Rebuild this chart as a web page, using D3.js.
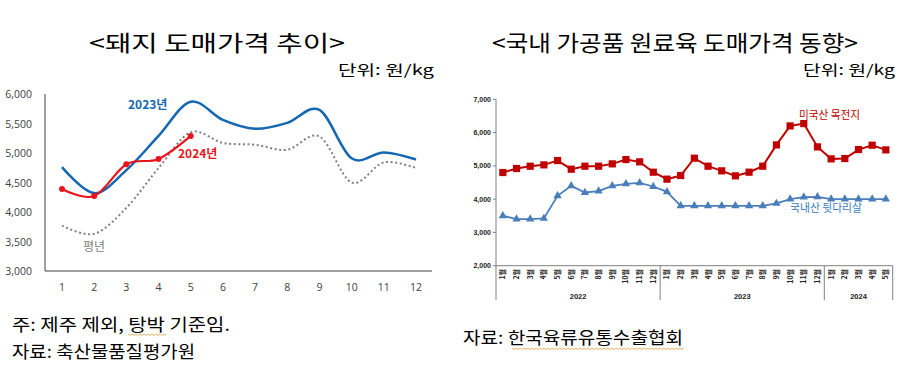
<!DOCTYPE html>
<html>
<head>
<meta charset="utf-8">
<script src="https://cdn.jsdelivr.net/npm/d3@7"></script>
<style>
  html, body { margin: 0; padding: 0; background: #fff; }
  svg { display: block; }
</style>
</head>
<body>
<svg id="chart" width="904" height="373"></svg>
<script>
// ---- left chart data (돼지 도매가격, 원/kg) ----
const months = [1, 2, 3, 4, 5, 6, 7, 8, 9, 10, 11, 12];
const price2023 = [4760, 4320, 4710, 5290, 5870, 5560, 5410, 5510, 5730, 4910, 5010, 4890];
const price2024 = [4390, 4270, 4810, 4900, 5290];
const priceNormal = [3770, 3630, 4070, 4745, 5350, 5170, 5140, 5055, 5280, 4500, 4840, 4745];
const leftTicks = [3000, 3500, 4000, 4500, 5000, 5500, 6000];

// ---- right chart data (국내 가공품 원료육, 원/kg) ----
const yearGroups = ["2022", "2023", "2024"];
const monthsPerYear = [12, 12, 5];
const monthLabels = [
  "1월", "2월", "3월", "4월", "5월", "6월", "7월", "8월", "9월", "10월", "11월", "12월",
  "1월", "2월", "3월", "4월", "5월", "6월", "7월", "8월", "9월", "10월", "11월", "12월",
  "1월", "2월", "3월", "4월", "5월"
];
const usShoulder = [4800, 4920, 4990, 5030, 5160, 4900, 4990, 4990, 5060, 5190, 5120, 4810,
  4600, 4710, 5230, 4990, 4850, 4700, 4810, 4990, 5630, 6200, 6270, 5570,
  5210, 5220, 5490, 5620, 5480];
const krHam = [3500, 3400, 3400, 3420, 4100, 4400, 4200, 4240, 4400, 4460, 4490, 4380,
  4220, 3800, 3800, 3800, 3800, 3800, 3800, 3800, 3870, 4000, 4060, 4070,
  4000, 4000, 4000, 4000, 4000];
const rightTicks = [2000, 3000, 4000, 5000, 6000, 7000];

const KR = "'Noto Sans CJK KR', 'Noto Sans', sans-serif";
const svg = d3.select("#chart");

// titles and units
function addText(x, y, txt, size, opts = {}) {
  const t = svg.append("text")
    .attr("x", x).attr("y", y)
    .attr("font-family", opts.family || KR)
    .attr("font-size", size)
    .attr("fill", opts.fill || "#000")
    .attr("font-weight", opts.weight || "normal")
    .attr("text-anchor", opts.anchor || "start")
    .text(txt);
  if (opts.len) t.attr("textLength", opts.len).attr("lengthAdjust", "spacingAndGlyphs");
  return t;
}

addText(89, 51, "<돼지  도매가격  추이>", 22, { len: 256 });
addText(492, 51, "<국내 가공품 원료육 도매가격 동향>", 22, { len: 366 });
addText(338, 75, "단위: 원/kg", 14, { len: 96 });
addText(803, 75, "단위: 원/kg", 14, { len: 92 });

addText(12, 331, "주: 제주 제외, 탕박 기준임.", 17, { len: 218 });
addText(12, 358, "자료: 축산물품질평가원", 17, { len: 183 });
addText(463, 344, "자료: 한국육류유통수출협회", 17, { len: 220 });

// spell-check style wavy underline
function wavy(x1, x2, y) {
  let d = `M${x1},${y}`;
  for (let x = x1, i = 0; x < x2; x += 2, i++) d += ` L${x + 2},${y + (i % 2 ? 0 : 1.5)}`;
  svg.append("path").attr("d", d).attr("fill", "none").attr("stroke", "#e0a040").attr("stroke-width", 0.8);
}
wavy(128, 166, 334);
wavy(512, 683, 348);

// ================= left chart =================
const xL = d3.scalePoint().domain(months).range([62, 416]);
const yL = d3.scaleLinear().domain([3000, 6000]).range([271, 94]);
const gL = svg.append("g");

gL.append("line").attr("x1", 45).attr("x2", 45).attr("y1", yL(6000)).attr("y2", yL(3000))
  .attr("stroke", "#404040").attr("stroke-width", 1);
gL.append("line").attr("x1", 45).attr("x2", 432).attr("y1", yL(3000)).attr("y2", yL(3000))
  .attr("stroke", "#404040").attr("stroke-width", 1);

gL.selectAll(".yl").data(leftTicks).join("text")
  .attr("x", 32).attr("y", d => yL(d) + 4)
  .attr("text-anchor", "end").attr("font-family", "'Open Sans', sans-serif")
  .attr("font-size", 10.5).attr("fill", "#404040")
  .text(d3.format(","));
gL.selectAll(".xl").data(months).join("text")
  .attr("x", d => xL(d)).attr("y", 291)
  .attr("text-anchor", "middle").attr("font-family", "'Open Sans', sans-serif")
  .attr("font-size", 10.5).attr("fill", "#404040")
  .text(d => d);

const smooth = d3.line().x((d, i) => xL(months[i])).y(d => yL(d)).curve(d3.curveCardinal.tension(0));

gL.append("path").attr("d", smooth(priceNormal)).attr("fill", "none")
  .attr("stroke", "#808080").attr("stroke-width", 2).attr("stroke-dasharray", "2,2.6");
gL.append("path").attr("d", smooth(price2023)).attr("fill", "none")
  .attr("stroke", "#1467b0").attr("stroke-width", 2.5);
gL.append("path").attr("d", smooth(price2024)).attr("fill", "none")
  .attr("stroke", "#e8141c").attr("stroke-width", 2.2);
gL.selectAll(".p24").data(price2024).join("circle")
  .attr("cx", (d, i) => xL(months[i])).attr("cy", d => yL(d)).attr("r", 3)
  .attr("fill", "#e8141c");

addText(128, 109, "2023년", 12, { fill: "#1467b0", weight: "bold" });
addText(178, 158, "2024년", 12, { fill: "#e8141c", weight: "bold" });
addText(83, 251, "평년", 12, { fill: "#7f7f7f" });

// ================= right chart =================
const idx = d3.range(monthLabels.length);
const xR = d3.scaleBand().domain(idx).range([496, 892.7]);
const yR = d3.scaleLinear().domain([2000, 7000]).range([265.7, 99.3]);
const gR = svg.append("g");

gR.append("line").attr("x1", 496).attr("x2", 496).attr("y1", yR(7000)).attr("y2", 300)
  .attr("stroke", "#808080");
gR.append("line").attr("x1", 496).attr("x2", 892.7).attr("y1", yR(2000)).attr("y2", yR(2000))
  .attr("stroke", "#808080");
gR.selectAll(".yt").data(rightTicks).join("line")
  .attr("x1", 493).attr("x2", 496).attr("y1", d => yR(d)).attr("y2", d => yR(d))
  .attr("stroke", "#808080");
gR.selectAll(".yl").data(rightTicks).join("text")
  .attr("x", 491).attr("y", d => yR(d) + 2.5)
  .attr("text-anchor", "end").attr("font-family", "'Liberation Sans', Arial, sans-serif")
  .attr("font-size", 7).attr("font-weight", "bold").attr("fill", "#222")
  .text(d3.format(","));

// month labels, rotated
gR.selectAll(".ml").data(monthLabels).join("text")
  .attr("transform", (d, i) => `translate(${xR(i) + xR.bandwidth() / 2 + 2.5},269) rotate(-90)`)
  .attr("text-anchor", "end").attr("font-family", KR)
  .attr("font-size", 7).attr("font-weight", "bold").attr("fill", "#222")
  .text(d => d);

// year groups
let start = 0;
yearGroups.forEach((yr, k) => {
  const end = start + monthsPerYear[k];
  const x0 = xR(start), x1 = xR(end - 1) + xR.bandwidth();
  gR.append("line").attr("x1", x1).attr("x2", x1).attr("y1", yR(2000)).attr("y2", 300)
    .attr("stroke", "#808080");
  gR.append("text").attr("x", (x0 + x1) / 2).attr("y", 299)
    .attr("text-anchor", "middle").attr("font-family", "'Liberation Sans', Arial, sans-serif")
    .attr("font-size", 7.5).attr("font-weight", "bold").attr("fill", "#222")
    .text(yr);
  start = end;
});

const cx = i => xR(i) + xR.bandwidth() / 2;
const straight = d3.line().x((d, i) => cx(i)).y(d => yR(d));

gR.append("path").attr("d", straight(krHam)).attr("fill", "none")
  .attr("stroke", "#4a7ebb").attr("stroke-width", 1.8);
gR.selectAll(".tri").data(krHam).join("path")
  .attr("d", d3.symbol(d3.symbolTriangle, 30))
  .attr("transform", (d, i) => `translate(${cx(i)},${yR(d)})`)
  .attr("fill", "#4a7ebb");

gR.append("path").attr("d", straight(usShoulder)).attr("fill", "none")
  .attr("stroke", "#c00000").attr("stroke-width", 2);
gR.selectAll(".sq").data(usShoulder).join("rect")
  .attr("x", (d, i) => cx(i) - 3.6).attr("y", d => yR(d) - 3.6)
  .attr("width", 7.2).attr("height", 7.2)
  .attr("fill", "#c00000");

addText(799, 119, "미국산 목전지", 11, { fill: "#c00000", len: 61 });
addText(790, 212, "국내산 뒷다리살", 11, { fill: "#3a7cc0", len: 72 });
</script>
</body>
</html>
